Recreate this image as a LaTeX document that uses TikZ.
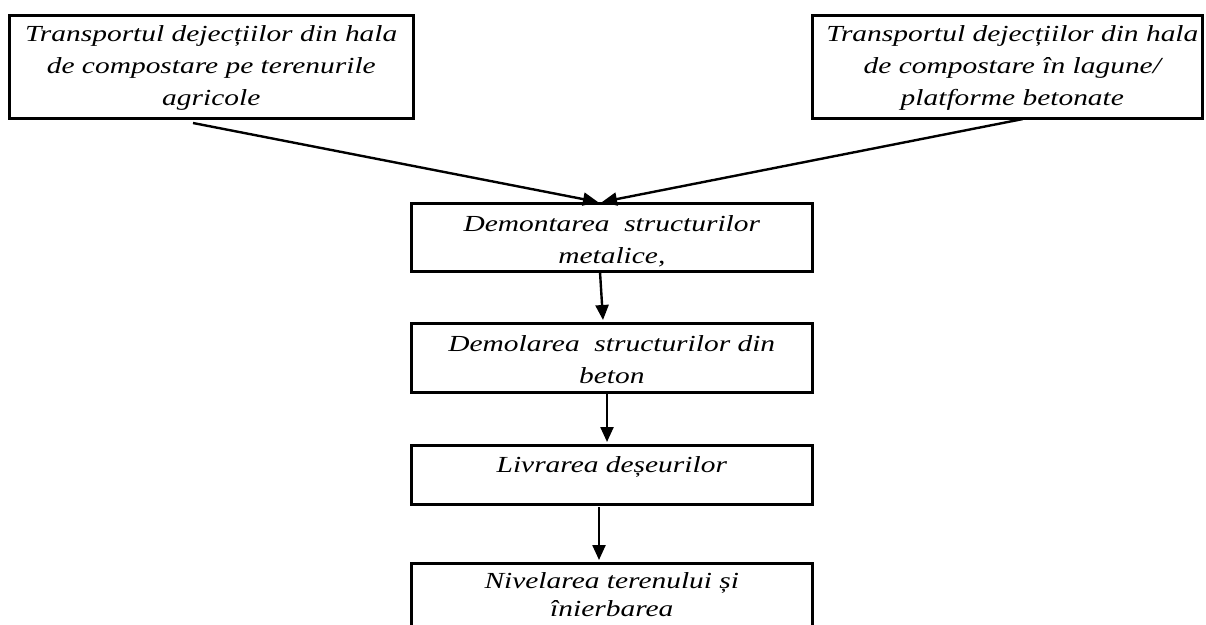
\documentclass[tikz,border=0pt]{standalone}
\usepackage{fontspec}
\setmainfont{Liberation Serif}[FakeStretch=1.28]
\usetikzlibrary{arrows.meta}
\tikzset{
  box/.style={draw=black, line width=2.6pt, inner sep=0pt, anchor=north west},
  txt/.style={font=\fontsize{23}{32}\selectfont\itshape, align=center, anchor=north, inner sep=0pt},
  arr/.style={line width=2.4pt, -{Triangle[length=15pt,width=13pt]}}
}
\begin{document}
\begin{tikzpicture}[x=1pt,y=-1pt]
\useasboundingbox (0,0) rectangle (1206,624);
% boxes
\node[box, minimum width=404pt, minimum height=103pt] (L) at (8,14) {};
\node[box, minimum width=390pt, minimum height=103pt] (R) at (811,14) {};
\node[box, minimum width=401pt, minimum height=68pt] (B1) at (410,202) {};
\node[box, minimum width=401pt, minimum height=69pt] (B2) at (410,322) {};
\node[box, minimum width=401pt, minimum height=59pt] (B3) at (410,444) {};
\node[box, minimum width=401pt, minimum height=80pt] (B4) at (410,562) {};
% texts
\node[txt] (tL) at ([yshift=-11pt]L.north) {Transportul dejecțiilor din hala\\de compostare pe terenurile\\agricole};
\node[txt] (tR) at ([xshift=5pt,yshift=-11pt]R.north) {Transportul dejecțiilor din hala\\de compostare în lagune/\\platforme betonate};
\node[txt] (t1) at ([yshift=-13pt]B1.north) {Demontarea\ \ structurilor\\metalice,};
\node[txt] (t2) at ([yshift=-13pt]B2.north) {Demolarea\ \ structurilor din\\beton};
\node[txt] (t3) at ([yshift=-12pt]B3.north) {Livrarea deșeurilor};
\node[txt, font=\fontsize{23}{28}\selectfont\itshape] (t4) at ([yshift=-10pt]B4.north) {Nivelarea terenului și\\înierbarea};
% connector end points
\coordinate (aL0) at (193,123);
\coordinate (aL1) at (598,202);
\coordinate (aR0) at (1023,119);
\coordinate (aR1) at (602,202);
\coordinate (a10) at (600,272);
\coordinate (a11) at (603,320);
\coordinate (a20) at (607,392);
\coordinate (a21) at (607,442);
\coordinate (a30) at (599,507);
\coordinate (a31) at (599,560);
\draw[arr] (aL0) -- (aL1);
\draw[arr] (aR0) -- (aR1);
\draw[arr] (a10) -- (a11);
\draw[arr] (a20) -- (a21);
\draw[arr] (a30) -- (a31);
\end{tikzpicture}
\end{document}
